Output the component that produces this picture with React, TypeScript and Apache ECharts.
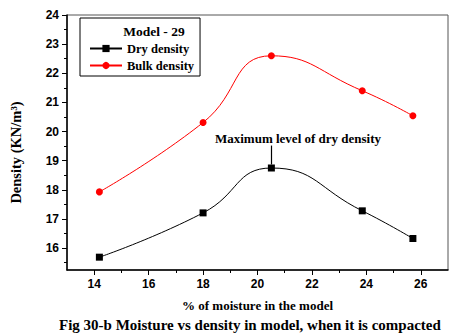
import React, { useEffect, useRef } from "react";
import * as echarts from "echarts";

const moisture = [14.19, 18.0, 20.51, 23.85, 25.71];
const dryDensity = [15.69, 17.21, 18.75, 17.28, 16.33];
const bulkDensity = [17.93, 20.31, 22.6, 21.4, 20.54];
const xMajor = [14, 16, 18, 20, 22, 24, 26];
const xMinor = [15, 17, 19, 21, 23, 25];
const yMajor = [16, 17, 18, 19, 20, 21, 22, 23, 24];
const yMinor = [15.5, 16.5, 17.5, 18.5, 19.5, 20.5, 21.5, 22.5, 23.5];
const peakArrow = [
  [20.51, 18.87],
  [20.51, 19.52],
];

const SERIF = "'Liberation Serif', 'Times New Roman', serif";
const SANS = "'Liberation Sans', Arial, sans-serif";

export default function App() {
  const ref = useRef<HTMLDivElement>(null);
  useEffect(() => {
    if (!ref.current) return;
    const chart = echarts.init(ref.current, null, { renderer: "svg" });
    const tickLabel = { fontFamily: SANS, fontWeight: "bold", fontSize: 12, color: "#000" };
    chart.setOption({
      animation: false,
      backgroundColor: "#fff",
      grid: {
        left: 67,
        right: 1,
        top: 15,
        bottom: 64,
        show: true,
        borderColor: "#555",
        borderWidth: 1,
      },
      xAxis: [
        {
          type: "value",
          min: 13,
          max: 27,
          position: "bottom",
          name: "% of moisture in the model",
          nameLocation: "middle",
          nameGap: 29,
          nameTextStyle: { fontFamily: SERIF, fontWeight: "bold", fontSize: 13, color: "#000" },
          axisLine: { show: true, lineStyle: { color: "#000", width: 1.5 } },
          axisTick: { show: true, customValues: xMajor, length: 5, lineStyle: { color: "#000" } },
          axisLabel: { customValues: xMajor, margin: 8, ...tickLabel },
          splitLine: { show: false },
        },
        {
          type: "value",
          min: 13,
          max: 27,
          position: "bottom",
          axisLine: { show: false },
          axisTick: { show: true, customValues: xMinor, length: 3, lineStyle: { color: "#000" } },
          axisLabel: { show: false },
          splitLine: { show: false },
        },
      ],
      yAxis: [
        {
          type: "value",
          min: 15.25,
          max: 24,
          position: "left",
          name: "Density (KN/m³)",
          nameLocation: "middle",
          nameGap: 44,
          nameTextStyle: {
            fontFamily: SERIF,
            fontWeight: "bold",
            fontSize: 14.5,
            color: "#000",
            padding: [0, 20, 0, 0],
          },
          axisLine: { show: true, lineStyle: { color: "#000", width: 1.5 } },
          axisTick: { show: true, customValues: yMajor, length: 5, lineStyle: { color: "#000" } },
          axisLabel: { customValues: yMajor, margin: 8, ...tickLabel },
          splitLine: { show: false },
        },
        {
          type: "value",
          min: 15.25,
          max: 24,
          position: "left",
          axisLine: { show: false },
          axisTick: { show: true, customValues: yMinor, length: 3, lineStyle: { color: "#000" } },
          axisLabel: { show: false },
          splitLine: { show: false },
        },
      ],
      legend: {
        orient: "vertical",
        left: 80,
        top: 18,
        padding: [24, 6, 4, 9],
        borderColor: "#000",
        borderWidth: 1,
        itemWidth: 32,
        itemHeight: 9,
        itemGap: 4,
        textStyle: { fontFamily: SERIF, fontWeight: "bold", fontSize: 12.5, color: "#000" },
        data: ["Dry density", "Bulk density"],
      },
      graphic: [
        {
          type: "text",
          x: 154,
          y: 31.5,
          style: {
            text: "Model - 29",
            font: `bold 13.5px ${SERIF}`,
            fill: "#000",
            align: "center",
            verticalAlign: "middle",
          },
        },
        {
          type: "text",
          x: 298,
          y: 138,
          style: {
            text: "Maximum level of dry density",
            font: `bold 13px ${SERIF}`,
            fill: "#000",
            align: "center",
            verticalAlign: "middle",
          },
        },
        {
          type: "text",
          x: 59,
          y: 325,
          style: {
            text: "Fig 30-b Moisture vs density in model, when it is compacted",
            font: `bold 15px ${SERIF}`,
            fill: "#000",
            align: "left",
            verticalAlign: "middle",
          },
        },
      ],
      series: [
        {
          name: "Dry density",
          type: "line",
          smooth: 0.5,
          symbol: "rect",
          symbolSize: 7,
          itemStyle: { color: "#000" },
          lineStyle: { color: "#000", width: 1 },
          data: moisture.map((x, i) => [x, dryDensity[i]]),
          markLine: {
            silent: true,
            symbol: ["none", "arrow"],
            symbolSize: [0, 7],
            label: { show: false },
            lineStyle: { color: "#000", width: 1.2, type: "solid" },
            data: [[{ coord: peakArrow[0] }, { coord: peakArrow[1] }]],
          },
        },
        {
          name: "Bulk density",
          type: "line",
          smooth: 0.5,
          symbol: "circle",
          symbolSize: 7,
          itemStyle: { color: "#ff0000" },
          lineStyle: { color: "#ff0000", width: 1 },
          data: moisture.map((x, i) => [x, bulkDensity[i]]),
        },
      ],
    });
    return () => chart.dispose();
  }, []);
  return (
    <div
      ref={ref}
      style={{ position: "fixed", left: 0, top: 0, width: 449, height: 334 }}
    />
  );
}
